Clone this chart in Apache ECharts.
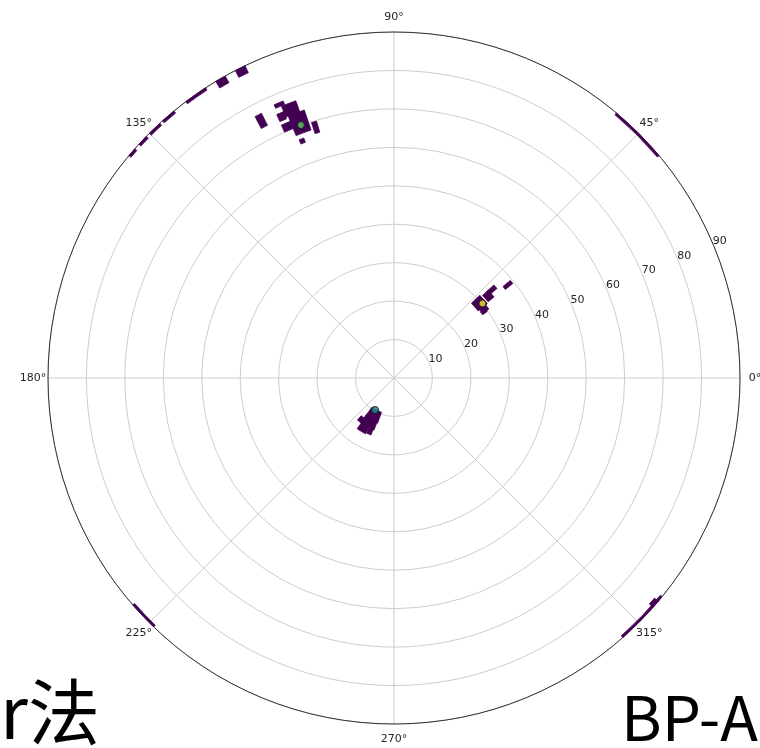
<!DOCTYPE html>
<html>
<head>
<meta charset="utf-8">
<script src="https://cdn.jsdelivr.net/npm/echarts@6/dist/echarts.min.js"></script>
<style>
  html, body { margin: 0; padding: 0; background: #fff; }
  #chart { width: 760px; height: 748px; }
</style>
</head>
<body>
<div id="chart"></div>
<script>
// polar cells: [rMin, rMax, thetaMin(deg), thetaMax(deg), value]
const cells = [
  // cluster near 110 deg
  [68, 73.5, 108.5, 112, 0],
  [73.5, 76.5, 109.5, 112.5, 0],
  [73, 75, 112.5, 114, 0],
  [70, 72, 112, 114, 0],
  [66.8, 69.8, 106.8, 107.9, 0],
  [65.5, 66.7, 110.6, 111.7, 0],
  [76.6, 77.6, 111.8, 113.7, 0],
  [73.5, 77, 116.6, 118, 0],
  // cluster near 40 deg
  [33, 35.5, 41, 43, 0],
  [31.5, 33.5, 39, 43, 0],
  [28, 31, 38.5, 44, 0],
  [28.5, 30.5, 36, 39.5, 0],
  [28.3, 29.8, 35.5, 37.5, 0],
  [37, 39.5, 38.5, 40, 0],
  // cluster near 240 deg
  [9.5, 12.5, 233, 250, 0],
  [12, 14.5, 233, 249, 0],
  [14.3, 16.3, 234, 243, 0],
  [14, 16, 243.5, 248, 0],
  [13, 14.5, 229, 238, 0],
  // along the rim
  [88, 90, 115.5, 117.3, 0],
  [88, 90, 119.2, 121, 0],
  [89.3, 90, 123, 127, 0],
  [89.3, 90, 129.5, 132, 0],
  [89.3, 90, 132.6, 135, 0],
  [89.3, 90, 135.7, 137.5, 0],
  [89.3, 90, 138.5, 140, 0],
  [89.4, 90, 40, 50, 0],
  [89.4, 90, 221, 226, 0],
  [89.4, 90, 311.4, 320.8, 0],
  [88.7, 90, 318.5, 319.8, 0]
];
// cluster peaks: [r, theta, value]
const peaks = [
  [70.1, 110.2, 0.75],
  [30.1, 40.1, 1.0],
  [9.7, 239.3, 0.45]
];
const rTicks = [10, 20, 30, 40, 50, 60, 70, 80, 90];
const angleTicks = [0, 45, 90, 135, 180, 225, 270, 315];
const rLabelAngle = 22.5;
const rMax = 90;

const viridis = ['#440154', '#3b528b', '#21918c', '#5ec962', '#fde725'];
function cmap(v) {
  return viridis[Math.round(Math.max(0, Math.min(1, v)) * (viridis.length - 1))];
}

const chart = echarts.init(document.getElementById('chart'), null, { renderer: 'canvas' });

const option = {
  backgroundColor: '#fff',
  animation: false,
  polar: { center: [394, 378], radius: 346 },
  angleAxis: {
    type: 'value', min: 0, max: 360, interval: 45,
    startAngle: 0, clockwise: false,
    axisLine: { show: true, lineStyle: { color: '#333', width: 1 } },
    axisTick: { show: false },
    axisLabel: { show: false },
    splitLine: { show: true, lineStyle: { color: '#cdcdcd', width: 1 } }
  },
  radiusAxis: {
    type: 'value', min: 0, max: rMax, interval: 10,
    axisLine: { show: false }, axisTick: { show: false }, axisLabel: { show: false },
    splitLine: { show: true, lineStyle: { color: '#cdcdcd', width: 1 } }
  },
  series: [
    {
      type: 'custom', coordinateSystem: 'polar', data: cells, z: 3,
      renderItem: function (params, api) {
        const cs = params.coordSys;
        const pa = api.coord([api.value(0), api.value(2)]);
        const pb = api.coord([api.value(1), api.value(2)]);
        const pc = api.coord([api.value(0), api.value(3)]);
        const r0 = Math.hypot(pa[0] - cs.cx, pa[1] - cs.cy);
        const r1 = Math.hypot(pb[0] - cs.cx, pb[1] - cs.cy);
        const a0 = Math.atan2(pa[1] - cs.cy, pa[0] - cs.cx);
        const a1 = Math.atan2(pc[1] - cs.cy, pc[0] - cs.cx);
        const col = cmap(api.value(4));
        return {
          type: 'sector',
          shape: { cx: cs.cx, cy: cs.cy, r0: r0, r: r1, startAngle: a1, endAngle: a0, clockwise: true },
          style: { fill: col, stroke: col, lineWidth: 0.8 }
        };
      }
    },
    {
      type: 'scatter', coordinateSystem: 'polar', data: peaks, z: 4,
      symbol: 'circle', symbolSize: 7,
      itemStyle: { color: p => cmap(p.value[2]), borderColor: '#1b1b2a', borderWidth: 1.3 }
    },
    {
      // radial tick labels placed along 22.5 deg
      type: 'custom', coordinateSystem: 'polar', data: rTicks.map(t => [t]), z: 5, silent: true,
      renderItem: function (params, api) {
        const p = api.coord([api.value(0), rLabelAngle]);
        return {
          type: 'text',
          style: {
            x: p[0] + 6, y: p[1] - 4.5, text: String(api.value(0)),
            fill: '#262626', font: '11px "DejaVu Sans"', align: 'center', verticalAlign: 'middle'
          }
        };
      }
    },
    {
      // angle tick labels centred just outside the rim
      type: 'custom', coordinateSystem: 'polar', data: angleTicks.map(t => [t]), z: 5, silent: true,
      renderItem: function (params, api) {
        const cs = params.coordSys;
        const p = api.coord([rMax, api.value(0)]);
        const d = Math.hypot(p[0] - cs.cx, p[1] - cs.cy);
        const k = (d + 15) / d;
        return {
          type: 'text',
          style: {
            x: cs.cx + (p[0] - cs.cx) * k, y: cs.cy + (p[1] - cs.cy) * k,
            text: api.value(0) + '°',
            fill: '#262626', font: '11px "DejaVu Sans"', align: 'center', verticalAlign: 'middle'
          }
        };
      }
    }
  ],
  graphic: [
    { type: 'text', left: 0, bottom: 0, style: { text: 'r法', font: '72px "Noto Sans CJK SC"', fill: '#000' } },
    { type: 'text', right: 2, bottom: 0, style: { text: 'BP-A', font: '62px "Noto Sans CJK SC"', fill: '#000' } }
  ]
};

chart.setOption(option);
window.addEventListener('resize', () => chart.resize());
</script>
</body>
</html>
